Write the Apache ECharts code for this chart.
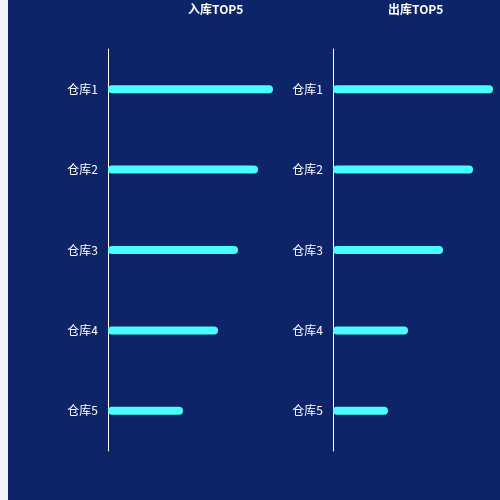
<!DOCTYPE html>
<html>
<head>
<meta charset="utf-8">
<script src="https://cdn.jsdelivr.net/npm/echarts@6/dist/echarts.min.js"></script>
<style>
  html, body { margin: 0; padding: 0; background: #f2f4f9; }
  #chart { position: absolute; left: 8px; top: 0; width: 492px; height: 500px; background: #0d2468; }
</style>
</head>
<body>
<div id="chart"></div>
<script>
// 仓库名称
var cangku = ['仓库1', '仓库2', '仓库3', '仓库4', '仓库5'];
// 入库 / 出库 数量
var ruku = [33, 30, 26, 22, 15];
var chuku = [32, 28, 22, 15, 11];
var titles = ['入库TOP5', '出库TOP5'];

var chart = echarts.init(document.getElementById('chart'));

function yAxisOf(idx) {
    return {
        type: 'category',
        gridIndex: idx,
        data: cangku,
        inverse: true,
        axisLine: { lineStyle: { color: '#ffffff', width: 1 } },
        axisTick: { show: false },
        axisLabel: { color: '#ffffff', fontSize: 12, margin: 10, fontFamily: 'Noto Sans CJK SC' }
    };
}
function xAxisOf(idx, max) {
    return {
        type: 'value', gridIndex: idx, min: 0, max: max,
        show: false, splitLine: { show: false }
    };
}
function barOf(idx, data) {
    return {
        type: 'bar',
        xAxisIndex: idx, yAxisIndex: idx,
        data: data,
        barWidth: 8,
        itemStyle: { color: '#48fefd', borderRadius: 4 }
    };
}

var option = {
    animation: false,
    title: [
        { text: titles[0], left: 180, top: 3, padding: 0,
          textStyle: { color: '#ffffff', fontSize: 12, fontWeight: 'bold', fontFamily: 'Noto Sans CJK SC' } },
        { text: titles[1], left: 380, top: 3, padding: 0,
          textStyle: { color: '#ffffff', fontSize: 12, fontWeight: 'bold', fontFamily: 'Noto Sans CJK SC' } }
    ],
    grid: [
        { left: 100, top: 49, width: 175, height: 402 },
        { left: 325, top: 49, width: 160, height: 402 }
    ],
    xAxis: [xAxisOf(0, 35), xAxisOf(1, 32)],
    yAxis: [yAxisOf(0), yAxisOf(1)],
    series: [barOf(0, ruku), barOf(1, chuku)]
};
chart.setOption(option);
</script>
</body>
</html>
